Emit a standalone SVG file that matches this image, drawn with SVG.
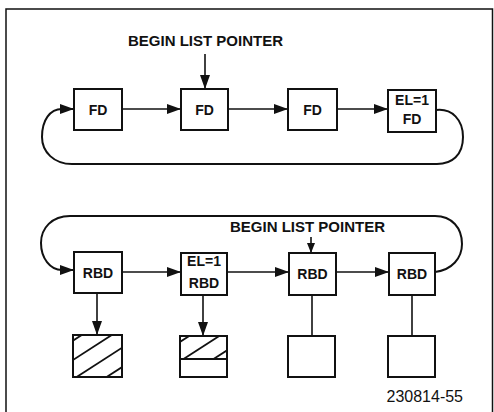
<svg xmlns="http://www.w3.org/2000/svg" width="494" height="412" viewBox="0 0 494 412">
<style>
.box{fill:#fff;stroke:#111;stroke-width:2}
.t{font-family:"Liberation Sans",Arial,sans-serif;font-weight:bold;font-size:14px;fill:#111;text-anchor:middle}
.ptr{font-family:"Liberation Sans",Arial,sans-serif;font-weight:bold;font-size:15px;fill:#111}
.lbl{font-family:"Liberation Sans",Arial,sans-serif;font-size:16px;fill:#111;text-anchor:end}
.c{fill:none;stroke:#111;stroke-width:1.6}
.loop{fill:none;stroke:#111;stroke-width:2}
.h{stroke:#111;stroke-width:1.8}
.frame{fill:none;stroke:#111;stroke-width:1.5}
</style>
<defs>
<marker id="ah" viewBox="0 0 14 10" refX="14" refY="5" markerWidth="14" markerHeight="10" markerUnits="userSpaceOnUse" orient="auto">
<path d="M0,0 L14,5 L0,10 Z" fill="#111"/>
</marker>
<marker id="ahs" viewBox="0 0 10 8" refX="10" refY="4" markerWidth="10" markerHeight="8" markerUnits="userSpaceOnUse" orient="auto">
<path d="M0,0 L10,4 L0,8 Z" fill="#111"/>
</marker>
<clipPath id="cb1"><rect x="73" y="335" width="49" height="42"/></clipPath>
<clipPath id="cb2"><rect x="180" y="336" width="47" height="23"/></clipPath>
</defs>
<path class="frame" d="M6,412 L6,9 L492.5,9 L492.5,412"/>
<g id="connectors">
<line class="c" x1="205" y1="54" x2="205" y2="89" marker-end="url(#ah)"/>
<line class="c" x1="122" y1="109" x2="181" y2="109" marker-end="url(#ah)"/>
<line class="c" x1="228" y1="109" x2="288" y2="109" marker-end="url(#ah)"/>
<line class="c" x1="337" y1="109" x2="388" y2="109" marker-end="url(#ah)"/>
<path class="loop" d="M436,110 C452,108 463,120 463,137 C463,155 452,164 437,164 L72,164 C54,164 42,152 42,137 C42,120 50,109 62,109 L74,109" marker-end="url(#ah)"/>
<line class="c" x1="311" y1="237" x2="311" y2="253" marker-end="url(#ahs)"/>
<line class="c" x1="122" y1="272" x2="181" y2="272" marker-end="url(#ah)"/>
<line class="c" x1="227" y1="272" x2="289" y2="272" marker-end="url(#ah)"/>
<line class="c" x1="336" y1="272" x2="389" y2="272" marker-end="url(#ah)"/>
<path class="loop" d="M435,272 C452,270 462,258 462,244 C462,228 452,216 435,216 L70,216 C52,216 41,228 41,243 C41,258 50,270 62,270 L74,270" marker-end="url(#ah)"/>
<line class="c" x1="97" y1="294" x2="97" y2="335" marker-end="url(#ah)"/>
<line class="c" x1="203" y1="295" x2="203" y2="336" marker-end="url(#ah)"/>
<line class="c" x1="312" y1="295" x2="312" y2="336"/>
<line class="c" x1="412" y1="294" x2="412" y2="336"/>
</g>
<text class="ptr" x="128" y="46">BEGIN LIST POINTER</text>
<text class="ptr" x="230" y="232">BEGIN LIST POINTER</text>
<g id="fd1"><rect class="box" x="74" y="89" width="48" height="41"/><text class="t" x="98" y="115">FD</text></g>
<g id="fd2"><rect class="box" x="181" y="89" width="47" height="41"/><text class="t" x="204.5" y="115">FD</text></g>
<g id="fd3"><rect class="box" x="288" y="89" width="49" height="41"/><text class="t" x="312.5" y="115">FD</text></g>
<g id="fd4"><rect class="box" x="388" y="90" width="48" height="42"/><text class="t" x="412" y="105">EL=1</text><text class="t" x="412" y="124">FD</text></g>
<g id="rbd1"><rect class="box" x="74" y="252" width="48" height="41"/><text class="t" x="98" y="278">RBD</text></g>
<g id="rbd2"><rect class="box" x="181" y="253" width="46" height="42"/><text class="t" x="204" y="266">EL=1</text><text class="t" x="204" y="288">RBD</text></g>
<g id="rbd3"><rect class="box" x="289" y="253" width="47" height="42"/><text class="t" x="312.5" y="279">RBD</text></g>
<g id="rbd4"><rect class="box" x="389" y="253" width="46" height="42"/><text class="t" x="412" y="279">RBD</text></g>
<g id="buf1">
<rect class="box" x="73" y="335" width="49" height="42"/>
<g clip-path="url(#cb1)">
<line class="h" x1="105" y1="320" x2="-3.5" y2="390"/>
<line class="h" x1="135" y1="320" x2="26.5" y2="390"/>
<line class="h" x1="165" y1="320" x2="56.5" y2="390"/>
<line class="h" x1="195" y1="320" x2="86.5" y2="390"/>
</g>
<rect x="73" y="335" width="49" height="42" fill="none" stroke="#111" stroke-width="2"/>
</g>
<g id="buf2">
<rect class="box" x="180" y="336" width="47" height="41"/>
<g clip-path="url(#cb2)">
<line class="h" x1="214" y1="320" x2="105.5" y2="390"/>
<line class="h" x1="244" y1="320" x2="135.5" y2="390"/>
<line class="h" x1="274" y1="320" x2="165.5" y2="390"/>
</g>
<line x1="180" y1="359" x2="227" y2="359" stroke="#111" stroke-width="2"/>
<rect x="180" y="336" width="47" height="41" fill="none" stroke="#111" stroke-width="2"/>
</g>
<g id="buf3"><rect class="box" x="288" y="336" width="47" height="41"/></g>
<g id="buf4"><rect class="box" x="388" y="336" width="47" height="41"/></g>
<text class="lbl" x="463" y="402">230814-55</text>
</svg>
